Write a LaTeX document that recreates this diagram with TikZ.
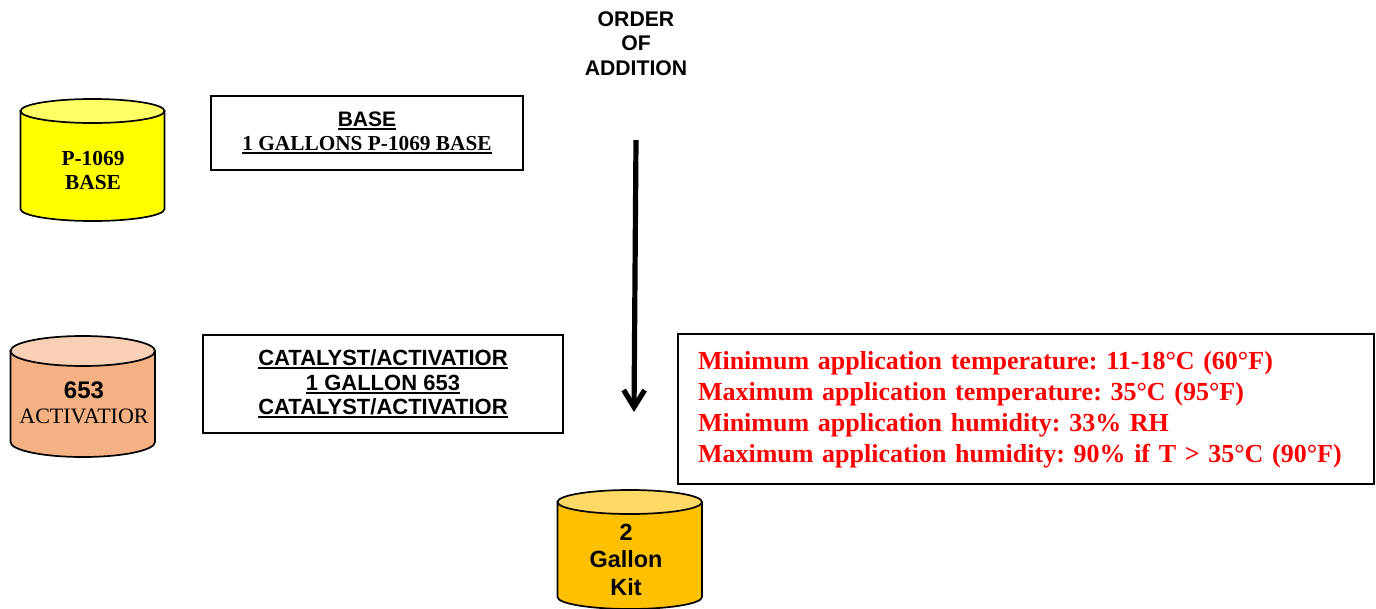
\documentclass[tikz,border=0pt]{standalone}
\usepackage{fontspec}
\usetikzlibrary{arrows.meta}
\setmainfont{Liberation Serif}
\setsansfont{Liberation Sans}
\newsavebox{\ulbox}
\newcommand{\ulx}[1]{\sbox{\ulbox}{#1}\mbox{\rlap{\rule[-3.2pt]{\wd\ulbox}{2pt}}\usebox{\ulbox}}}
\newcommand{\fs}[2]{\fontsize{#1}{#2}\selectfont}
% x left, x right, y of lid centre, lid radius, y of side end, body colour, lid colour
\newcommand{\barrel}[7]{%
  \path[draw=black,line width=1.7pt,fill=#6]
    (#1,#3) -- (#1,#5) arc[start angle=180,end angle=360,x radius={(#2-#1)/2},y radius=-#4]
    -- (#2,#3) -- cycle;
  \path[draw=black,line width=1.7pt,fill=#7]
    ({(#1+#2)/2},#3) ellipse[x radius={(#2-#1)/2},y radius=#4];
}
\tikzset{
  x=1pt,y=-1pt,
  framebox/.style={draw=black,line width=1.7pt,fill=white,align=center,inner sep=0pt},
  plainlabel/.style={align=center,inner sep=0pt},
  notetext/.style={align=left,inner sep=0pt,text=red,text width=656pt,font=\bfseries\fs{26}{31}},
  flowarrow/.style={line width=5.2pt,-{Straight Barb[length=17pt,width=21pt,line width=5.2pt]}},
}
\definecolor{bodyyellow}{HTML}{FFFF00}
\definecolor{lidyellow}{HTML}{FFFF66}
\definecolor{bodyorange}{HTML}{F4B183}
\definecolor{lidorange}{HTML}{F8D0B5}
\definecolor{bodygold}{HTML}{FFC000}
\definecolor{lidgold}{HTML}{FFD966}
\begin{document}
\frenchspacing
\begin{tikzpicture}
\useasboundingbox (0,0) rectangle (1376,608);
\clip (0,0) rectangle (1376,608);

\node[plainlabel,font=\sffamily\bfseries\fs{21.2}{24.5}] (order) at (636,43.5) {ORDER\\OF\\ADDITION};

\barrel{20.5}{164.5}{111}{12}{209}{bodyyellow}{lidyellow}
\node[plainlabel,font=\bfseries\fs{21.4}{24}] (base) at (93,170) {P-1069\\BASE};

\node[framebox,minimum width=312pt,minimum height=74pt,font=\bfseries\fs{21.3}{24.5}] (basebox) at (367,133)
  {\ulx{\sffamily\fs{21}{24.5}BASE}\\\ulx{1 GALLONS P-1069 BASE}};

\barrel{10.5}{155}{351}{15}{442}{bodyorange}{lidorange}
\node[plainlabel,font=\sffamily\bfseries\fs{24}{25}] (activator) at (84,403)
  {653\\{\rmfamily\mdseries\fs{22}{25}ACTIVATIOR}};

\node[framebox,minimum width=360pt,minimum height=98pt,font=\sffamily\bfseries\fs{22}{24.5}] (catbox) at (383,384)
  {\ulx{CATALYST/ACTIVATIOR}\\\ulx{1 GALLON 653}\\\ulx{CATALYST/ACTIVATIOR}};

\node[framebox,minimum width=696pt,minimum height=150pt] (notes) at (1026,409) {};
\node[notetext] (notestext) at (1026,409.5)
  {Minimum application temperature: 11-18°C (60°F)\\
   Maximum application temperature: 35°C (95°F)\\
   Minimum application humidity: 33\% RH\\
   Maximum application humidity: 90\% if T > 35°C (90°F)};

\barrel{557.5}{702}{502}{12}{597}{bodygold}{lidgold}
\node[plainlabel,font=\sffamily\bfseries\fs{23.4}{27.5}] (kit) at (626,559.5) {2\\Gallon\\Kit};

\coordinate (flowstart) at (636,140);
\coordinate (flowend) at (634,412);
\draw[flowarrow] (flowstart) -- (flowend);
\end{tikzpicture}
\end{document}
